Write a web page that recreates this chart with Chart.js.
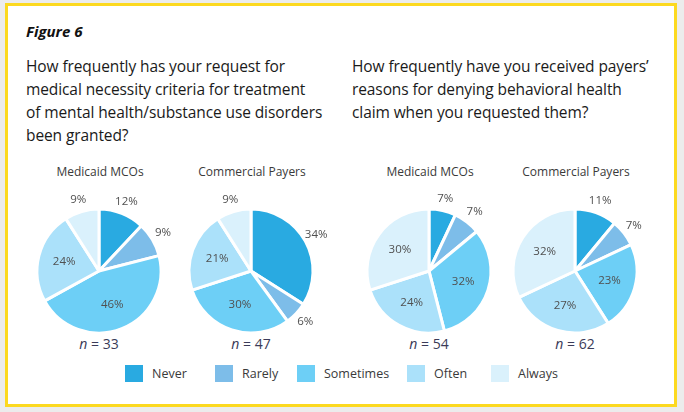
<!DOCTYPE html>
<html>
<head>
<meta charset="utf-8">
<script src="https://cdn.jsdelivr.net/npm/chart.js@4.4.1/dist/chart.umd.min.js"></script>
<style>
  html, body { margin: 0; padding: 0; }
  body {
    width: 684px; height: 412px; overflow: hidden;
    background: #ececec; position: relative;
    font-family: "Open Sans", "Noto Sans", sans-serif;
  }
  .frame {
    position: absolute; left: 5px; top: 3px; width: 666px; height: 398px;
    border: 3px solid #fcd920; background: #fff;
  }
  .fig { position: absolute; left: 26px; top: 21px; font-size: 15px; font-weight: bold; font-style: italic; color: #111; }
  .q { position: absolute; top: 55px; font-size: 15.5px; line-height: 23px; color: #1a1a1a; letter-spacing: -0.1px; }
  .sub { position: absolute; top: 163px; width: 160px; text-align: center; font-size: 12px; color: #3a3a3a; }
  .n { position: absolute; top: 334px; width: 100px; text-align: center; font-size: 14px; color: #3b3b58; }
  .pie { position: absolute; width: 180px; height: 180px; }
  .legend { position: absolute; top: 365px; left: 0; width: 684px; height: 18px; }
  .lg { position: absolute; top: 0; font-size: 12.5px; color: #3a3a3a; line-height: 17px; }
  .lg span { position: absolute; left: 0; top: 0; width: 18px; height: 17px; }
</style>
</head>
<body>
<div class="frame"></div>
<div class="fig">Figure 6</div>
<div class="q" style="left:26px;">How frequently has your request for<br>medical necessity criteria for treatment<br>of mental health/substance use disorders<br>been granted?</div>
<div class="q" style="left:352px;">How frequently have you received payers’<br>reasons for denying behavioral health<br>claim when you requested them?</div>
<div id="subs"></div>
<div class="legend" id="legend"></div>
<script>
// answer categories and colours
const categories = ["Never", "Rarely", "Sometimes", "Often", "Always"];
const colors = ["#29aae1", "#7dbde9", "#6dcff6", "#abe1fa", "#daf1fc"];

// chart titles and sample sizes
const titles = ["Medicaid MCOs", "Commercial Payers", "Medicaid MCOs", "Commercial Payers"];
const sampleSizes = [33, 47, 54, 62];

// percentages per chart (Never, Rarely, Sometimes, Often, Always)
const grantedMedicaid = [12, 9, 46, 24, 9];
const grantedCommercial = [34, 6, 30, 21, 9];
const reasonsMedicaid = [7, 7, 32, 24, 30];
const reasonsCommercial = [11, 7, 23, 27, 32];
const series = [grantedMedicaid, grantedCommercial, reasonsMedicaid, reasonsCommercial];

// which slice labels sit outside the pie
const outside = [
  [true, true, false, false, true],
  [true, true, false, false, true],
  [true, true, false, false, false],
  [true, true, false, false, false],
];

const centers = [[99, 271], [251, 271], [429, 271], [575, 271]];
const R = 62;

const sliceLabels = {
  id: "sliceLabels",
  afterDatasetsDraw(chart, args, opts) {
    const ctx = chart.ctx;
    const meta = chart.getDatasetMeta(0);
    ctx.save();
    ctx.font = "11.5px 'Open Sans', sans-serif";
    ctx.fillStyle = "#505050";
    ctx.textAlign = "center";
    ctx.textBaseline = "middle";
    meta.data.forEach((arc, i) => {
      const mid = (arc.startAngle + arc.endAngle) / 2;
      const f = opts.outside[i] ? 1.2 : 0.58;
      const x = arc.x + Math.cos(mid) * arc.outerRadius * f;
      const y = arc.y + Math.sin(mid) * arc.outerRadius * f;
      ctx.fillText(chart.data.datasets[0].data[i] + "%", x, y);
    });
    ctx.restore();
  }
};

const subs = document.getElementById("subs");
series.forEach((vals, k) => {
  const [cx, cy] = centers[k];
  const t = document.createElement("div");
  t.className = "sub";
  t.style.left = (cx - 80 + 1) + "px";
  t.textContent = titles[k];
  subs.appendChild(t);

  const n = document.createElement("div");
  n.className = "n";
  n.style.left = (cx - 50) + "px";
  n.innerHTML = "<i>n</i> = " + sampleSizes[k];
  subs.appendChild(n);

  const box = document.createElement("div");
  box.className = "pie";
  box.style.left = (cx - 90) + "px";
  box.style.top = (cy - 90) + "px";
  const cv = document.createElement("canvas");
  box.appendChild(cv);
  document.body.appendChild(box);

  new Chart(cv, {
    type: "pie",
    data: {
      labels: categories,
      datasets: [{
        data: vals,
        backgroundColor: colors,
        borderColor: "#ffffff",
        borderWidth: 3,
      }],
    },
    options: {
      responsive: true,
      maintainAspectRatio: false,
      animation: false,
      radius: R,
      plugins: {
        legend: { display: false },
        tooltip: { enabled: false },
        sliceLabels: { outside: outside[k] },
      },
    },
    plugins: [sliceLabels],
  });
});

// legend
const legendX = [125, 215, 297, 407, 491];
const legend = document.getElementById("legend");
categories.forEach((c, i) => {
  const d = document.createElement("div");
  d.className = "lg";
  d.style.left = legendX[i] + "px";
  d.style.paddingLeft = "27px";
  d.innerHTML = '<span style="background:' + colors[i] + '"></span>' + c;
  legend.appendChild(d);
});
</script>
</body>
</html>
